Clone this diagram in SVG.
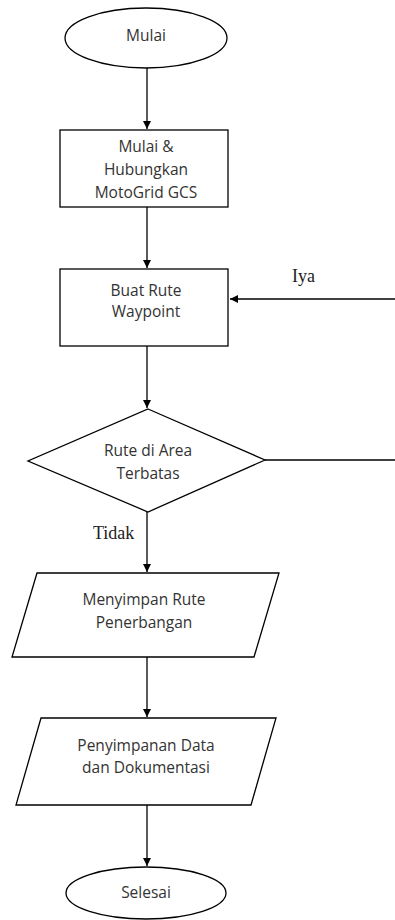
<svg xmlns="http://www.w3.org/2000/svg" width="395" height="920" viewBox="0 0 395 920">
<style>
.s{fill:#fff;stroke:#000;stroke-width:1.3}
.t{font-family:"Open Sans","Liberation Sans",sans-serif;font-size:15.5px;fill:#333;text-anchor:middle;dominant-baseline:central}
.l{font-family:"Liberation Serif",serif;font-size:18px;fill:#222}
.c{fill:none;stroke:#000;stroke-width:1.3}
</style>
<defs>
<marker id="a" markerWidth="10" markerHeight="10" refX="9" refY="5" orient="auto" markerUnits="userSpaceOnUse">
<path d="M1,1 L9,5 L1,9 Z" fill="#000"/>
</marker>
</defs>
<g id="connectors">
<line class="c" x1="147" y1="68" x2="147" y2="129" marker-end="url(#a)"/>
<line class="c" x1="147" y1="207" x2="147" y2="268" marker-end="url(#a)"/>
<line class="c" x1="147" y1="346" x2="147" y2="408" marker-end="url(#a)"/>
<line class="c" x1="147" y1="512" x2="147" y2="572" marker-end="url(#a)"/>
<line class="c" x1="147" y1="657" x2="147" y2="717" marker-end="url(#a)"/>
<line class="c" x1="147" y1="805" x2="147" y2="866" marker-end="url(#a)"/>
<line class="c" x1="265" y1="460" x2="395" y2="460"/>
<line class="c" x1="395" y1="299" x2="230" y2="299" marker-end="url(#a)"/>
<text class="l" x="292" y="282">Iya</text>
<text class="l" x="93" y="539">Tidak</text>
</g>
<g id="mulai">
<ellipse class="s" cx="146" cy="38" rx="81" ry="30"/>
<text class="t" x="146" y="35">Mulai</text>
</g>
<g id="hubungkan">
<rect class="s" x="60" y="130" width="168" height="77"/>
<text class="t" x="146" y="146">Mulai &amp;</text>
<text class="t" x="146" y="169">Hubungkan</text>
<text class="t" x="146" y="192">MotoGrid GCS</text>
</g>
<g id="buat-rute">
<rect class="s" x="60" y="269" width="168" height="77"/>
<text class="t" x="146" y="290">Buat Rute</text>
<text class="t" x="146" y="311">Waypoint</text>
</g>
<g id="decision">
<polygon class="s" points="148,409 265,460 148,512 28,461"/>
<text class="t" x="148" y="450">Rute di Area</text>
<text class="t" x="148" y="473">Terbatas</text>
</g>
<g id="menyimpan">
<polygon class="s" points="37,573 279,573 254,657 12,657"/>
<text class="t" x="144" y="599">Menyimpan Rute</text>
<text class="t" x="144" y="622">Penerbangan</text>
</g>
<g id="penyimpanan">
<polygon class="s" points="41,718 276,718 251,805 16,805"/>
<text class="t" x="146" y="745">Penyimpanan Data</text>
<text class="t" x="146" y="767">dan Dokumentasi</text>
</g>
<g id="selesai">
<ellipse class="s" cx="146" cy="893" rx="80" ry="26"/>
<text class="t" x="146" y="892">Selesai</text>
</g>
</svg>
